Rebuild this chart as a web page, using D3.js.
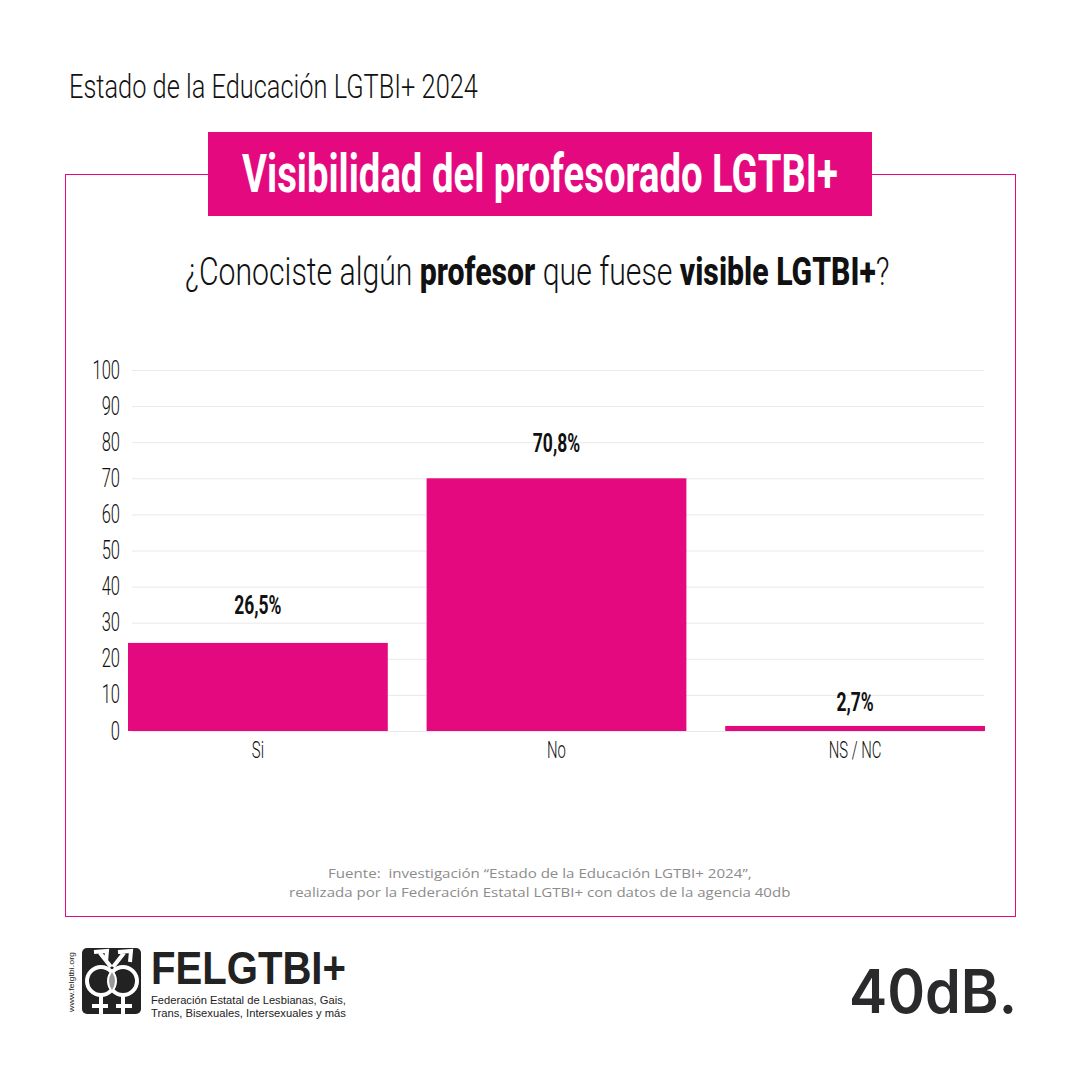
<!DOCTYPE html>
<html>
<head>
  <meta charset="utf-8">
  <script src="https://d3js.org/d3.v7.min.js"></script>
  <style>
    html, body { margin: 0; padding: 0; background: #fff; }
    svg { display: block; }
    text { white-space: pre; }
  </style>
</head>
<body>
<svg id="chart" width="1080" height="1080"></svg>
<script>
"use strict";

// Data. Bar heights do not match their printed labels in the original.
const categories = ["Si", "No", "NS / NC"];
const barValues = [24.4, 70, 1.4];
const barLabels = ["26,5%", "70,8%", "2,7%"];
const yTicks = [0, 10, 20, 30, 40, 50, 60, 70, 80, 90, 100];

const PINK = "#e5097f";
const INK = "#111";
const CONDENSED = "'Roboto', 'Liberation Sans', sans-serif";
const LOGO_FONT = "'Liberation Sans Narrow', 'Liberation Sans', sans-serif";

const svg = d3.select("#chart");

// Text scaled horizontally so it spans exactly x0 to x1
function fitText(txt, x0, x1, baseline, size, weight, fill, family) {
  const t = svg.append("text")
    .attr("font-family", family || CONDENSED)
    .attr("font-size", size)
    .attr("font-weight", weight)
    .attr("fill", fill)
    .text(txt);
  fitWidth(t, x0, x1, baseline);
  return t;
}

function fitWidth(t, x0, x1, baseline) {
  const len = t.node().getComputedTextLength();
  t.attr("transform", `translate(${x0},${baseline}) scale(${(x1 - x0) / len},1)`);
}

// Narrow already placed text by a factor, around its own anchor
function squeeze(sel, factor) {
  sel.each(function() {
    const ax = +this.getAttribute("x") || 0;
    d3.select(this).attr("transform", `translate(${ax},0) scale(${factor},1) translate(${-ax},0)`);
  });
}

/* header and frame */
fitText("Estado de la Educación LGTBI+ 2024", 69, 478, 98, 33, 300, INK);

svg.append("rect")
  .attr("x", 65.5).attr("y", 174.5).attr("width", 950).attr("height", 742)
  .attr("fill", "none").attr("stroke", PINK).attr("stroke-width", 1);

svg.append("rect")
  .attr("x", 208).attr("y", 132).attr("width", 664).attr("height", 84)
  .attr("fill", PINK);

fitText("Visibilidad del profesorado LGTBI+", 242, 838, 192, 54, 700, "#fff");

/* question, one text with bold runs */
const question = svg.append("text")
  .attr("font-family", CONDENSED)
  .attr("font-size", 39)
  .attr("fill", INK);
[["¿Conociste algún ", 300], ["profesor", 800], [" que fuese ", 300], ["visible LGTBI+", 800], ["?", 300]]
  .forEach(run => {
    question.append("tspan").attr("font-weight", run[1]).text(run[0]);
  });
fitWidth(question, 185, 890, 285);

/* chart */
const y = d3.scaleLinear().domain([0, 100]).range([731, 370]);
const x = d3.scaleBand().domain(categories).range([128, 985]).paddingInner(0.13).paddingOuter(0);

const yAxis = svg.append("g")
  .attr("transform", "translate(132,0)")
  .call(d3.axisLeft(y).tickValues(yTicks).tickSize(-852).tickPadding(12));
yAxis.select(".domain").remove();
yAxis.selectAll(".tick line").attr("stroke", "#e9e9e9").attr("stroke-width", 1);
yAxis.selectAll(".tick text")
  .attr("font-family", CONDENSED)
  .attr("font-size", 25)
  .attr("font-weight", 300)
  .attr("fill", INK)
  .call(squeeze, 0.66);

const xAxis = svg.append("g")
  .attr("transform", "translate(0,731)")
  .call(d3.axisBottom(x).tickSize(0).tickPadding(10));
xAxis.select(".domain").remove();
xAxis.selectAll(".tick text")
  .attr("font-family", CONDENSED)
  .attr("font-size", 24)
  .attr("font-weight", 300)
  .attr("fill", INK)
  .call(squeeze, 0.62);

svg.selectAll("rect.bar")
  .data(categories)
  .join("rect")
  .attr("class", "bar")
  .attr("x", d => x(d))
  .attr("y", (d, i) => y(barValues[i]))
  .attr("width", x.bandwidth())
  .attr("height", (d, i) => y(0) - y(barValues[i]))
  .attr("fill", PINK);

// Gap between bar top and its label differs per bar in the original
const labelLift = [29, 26, 15];
svg.selectAll("text.value")
  .data(categories)
  .join("text")
  .attr("class", "value")
  .attr("x", d => x(d) + x.bandwidth() / 2)
  .attr("y", (d, i) => y(barValues[i]) - labelLift[i])
  .attr("text-anchor", "middle")
  .attr("font-family", CONDENSED)
  .attr("font-size", 25)
  .attr("font-weight", 700)
  .attr("fill", INK)
  .text((d, i) => barLabels[i])
  .call(squeeze, 0.7);

/* source */
fitText("Fuente:  investigación “Estado de la Educación LGTBI+ 2024”,", 328, 752, 878, 13.5, 400, "#8c8c8c", "'Open Sans', sans-serif");
fitText("realizada por la Federación Estatal LGTBI+ con datos de la agencia 40db", 289, 791, 897, 13.5, 400, "#8c8c8c", "'Open Sans', sans-serif");

/* FELGTBI+ logo */
const logo = svg.append("g");
logo.append("rect").attr("x", 82).attr("y", 948).attr("width", 59).attr("height", 66).attr("rx", 5).attr("fill", "#222");
logo.append("circle").attr("cx", 101).attr("cy", 981).attr("r", 14).attr("fill", "#222");
logo.append("circle").attr("cx", 123).attr("cy", 981).attr("r", 14).attr("fill", "#222");
logo.append("circle").attr("cx", 101).attr("cy", 981).attr("r", 14).attr("fill", "none").attr("stroke", "#fff").attr("stroke-width", 4);
logo.append("circle").attr("cx", 123).attr("cy", 981).attr("r", 14).attr("fill", "none").attr("stroke", "#fff").attr("stroke-width", 4);
logo.append("path").attr("d", "M112 972Q118 981 112 990Q106 981 112 972Z").attr("fill", "#999");
logo.append("path")
  .attr("d", "M111 967L100 953M94 952L107 951L106 962M113 967L124 953M118 952L131 951L130 962")
  .attr("fill", "none").attr("stroke", "#fff").attr("stroke-width", 4);
logo.append("path")
  .attr("d", "M101 996L101 1014M123 996L123 1014M92 1006L108 1006M116 1006L132 1006")
  .attr("fill", "none").attr("stroke", "#fff").attr("stroke-width", 4);

fitText("FELGTBI+", 151, 346, 984, 46, 700, "#222", LOGO_FONT);
fitText("Federación Estatal de Lesbianas, Gais,", 151, 346, 1004, 11.5, 400, "#222", LOGO_FONT);
fitText("Trans, Bisexuales, Intersexuales y más", 151, 346, 1017, 11.5, 400, "#222", LOGO_FONT);

svg.append("text")
  .attr("transform", "translate(74,1012) rotate(-90)")
  .attr("textLength", 60)
  .attr("lengthAdjust", "spacingAndGlyphs")
  .attr("font-family", "'Liberation Sans', sans-serif")
  .attr("font-size", 8)
  .attr("fill", "#222")
  .text("www.felgtbi.org");

/* 40dB. logo */
fitText("40dB.", 849, 1017, 1013, 60, 600, "#2a2a2c", "'Inter', sans-serif");
</script>
</body>
</html>
